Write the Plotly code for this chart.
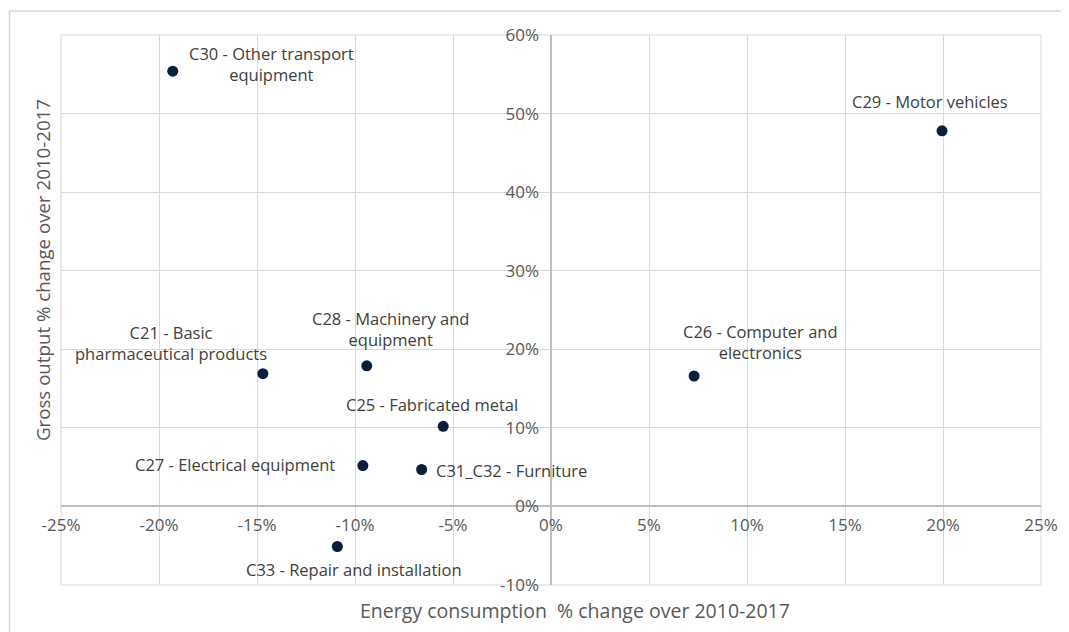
import plotly.graph_objects as go

labels = [
    "C30 - Other transport<br>equipment",
    "C29 - Motor vehicles",
    "C26 - Computer and<br>electronics",
    "C21 - Basic<br>pharmaceutical products",
    "C28 - Machinery and<br>equipment",
    "C25 - Fabricated metal",
    "C27 - Electrical equipment",
    "C31_C32 - Furniture",
    "C33 - Repair and installation",
]
energy_change = [-19.3, 19.95, 7.3, -14.7, -9.4, -5.5, -9.6, -6.6, -10.9]
output_change = [55.4, 47.8, 16.6, 16.9, 17.9, 10.2, 5.2, 4.7, -5.1]

x_ticks = [-25, -20, -15, -10, -5, 0, 5, 10, 15, 20, 25]
y_ticks = [-10, 0, 10, 20, 30, 40, 50, 60]

# label placement (style): xanchor, xshift, yshift
label_style = [
    ("center", 99, 7),
    ("center", -12, 29),
    ("center", 66, 34),
    ("center", -92, 31),
    ("center", 24, 37),
    ("center", -11, 22),
    ("right", -26, 1),
    ("left", 12, -1),
    ("center", 17, -23),
]

FONT = "Open Sans, DejaVu Sans, sans-serif"
GREY = "#595959"

fig = go.Figure()
fig.add_trace(go.Scatter(
    x=energy_change, y=output_change, mode="markers",
    marker=dict(color="#0a1e3c", size=11),
    hoverinfo="skip", showlegend=False,
))

for xv, yv, t, (xa, xs, ys) in zip(energy_change, output_change, labels, label_style):
    fig.add_annotation(
        x=xv, y=yv, xref="x", yref="y", text=t, showarrow=False,
        xanchor=xa, yanchor="middle", xshift=xs, yshift=ys, align="center",
        font=dict(family=FONT, size=16.5, color="#404040"),
    )

# axis titles
fig.add_annotation(
    x=0.5245, y=-0.046, xref="paper", yref="paper", showarrow=False,
    text="Energy consumption  % change over 2010-2017", xanchor="center", yanchor="middle",
    font=dict(family=FONT, size=19.5, color=GREY),
)
fig.add_annotation(
    x=-0.0194, y=0.5727, xref="paper", yref="paper", showarrow=False,
    text="Gross output % change over 2010-2017", textangle=-90,
    xanchor="center", yanchor="middle",
    font=dict(family=FONT, size=18.7, color=GREY),
)

# plot frame and outer border (only left and top edges visible)
fig.add_shape(type="rect", xref="paper", yref="paper", x0=0, y0=0, x1=1, y1=1,
              line=dict(color="#d9d9d9", width=1), layer="below")
fig.add_shape(type="rect", xref="paper", yref="paper", x0=-0.0525, y0=-0.12,
              x1=1.05, y1=1.0436, line=dict(color="#d9d9d9", width=1.5), layer="below")

fig.update_layout(
    width=1069, height=632,
    margin=dict(l=53, r=36, t=27, b=55),
    paper_bgcolor="white", plot_bgcolor="white",
    font=dict(family=FONT, color=GREY),
    xaxis=dict(
        range=[-25, 25], tickvals=x_ticks, ticktext=[f"{v}%" for v in x_ticks],
        showgrid=True, gridcolor="#d9d9d9", gridwidth=1,
        zeroline=True, zerolinecolor="#bfbfbf", zerolinewidth=1.5,
        anchor="free", position=10 / 70, ticks="", ticklabelstandoff=7,
        tickfont=dict(family=FONT, size=17, color=GREY), showline=False,
    ),
    yaxis=dict(
        range=[-10, 60], tickvals=y_ticks, ticktext=[f"{v}%" for v in y_ticks],
        showgrid=True, gridcolor="#d9d9d9", gridwidth=1,
        zeroline=True, zerolinecolor="#bfbfbf", zerolinewidth=1.5,
        anchor="free", position=0.5, ticks="", ticklabelstandoff=12,
        tickfont=dict(family=FONT, size=17, color=GREY), showline=False,
    ),
)

fig.write_html("out.html")
